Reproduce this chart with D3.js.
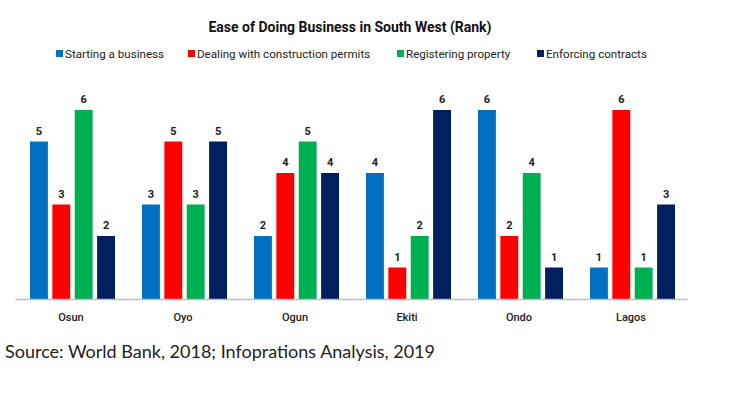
<!DOCTYPE html>
<html lang="en">
<head>
  <meta charset="UTF-8" />
  <title>Ease of Doing Business in South West</title>
  <style>
    html, body { margin: 0; background: #fff; }
    body { width: 743px; height: 395px; overflow: hidden; }
    svg text { font-family: Roboto, sans-serif; }
    .source { font-family: Lato, "Open Sans", sans-serif; }
  </style>
</head>
<body>
  <svg id="chart" width="743" height="395"></svg>

  <script src="https://cdn.jsdelivr.net/npm/d3@7/dist/d3.min.js"></script>
  <script>
    // data
    const states = ["Osun", "Oyo", "Ogun", "Ekiti", "Ondo", "Lagos"];
    const seriesNames = ["Starting a business", "Dealing with construction permits", "Registering property", "Enforcing contracts"];
    const startingBusiness = [5, 3, 2, 4, 6, 1];
    const constructionPermits = [3, 5, 4, 1, 2, 6];
    const registeringProperty = [6, 3, 5, 2, 4, 1];
    const enforcingContracts = [2, 5, 4, 6, 1, 3];
    const colors = ["#0070C0", "#FF0000", "#00B050", "#002060"];

    const seriesValues = [startingBusiness, constructionPermits, registeringProperty, enforcingContracts];
    const rows = states.map((s, i) => ({
      state: s,
      values: seriesNames.map((n, j) => ({ key: n, value: seriesValues[j][i] }))
    }));

    const svg = d3.select("#chart");
    const margin = { left: 15, right: 56 };
    const width = 743 - margin.left - margin.right;
    const baseY = 299;

    const x0 = d3.scaleBand().domain(states).range([margin.left, margin.left + width]);
    const x1 = d3.scaleBand().domain(seriesNames).range([15, x0.bandwidth() - 12]).paddingInner(0.2);
    const y = d3.scaleLinear().domain([0, 6]).range([baseY, 110]);
    const color = d3.scaleOrdinal().domain(seriesNames).range(colors);

    // title
    svg.append("text")
      .attr("x", 350).attr("y", 32)
      .attr("text-anchor", "middle")
      .style("font-size", "14px").style("font-weight", "bold").attr("fill", "#111")
      .text("Ease of Doing Business in South West (Rank)");

    // legend
    const legendX = [56, 188, 397, 537];
    const legend = svg.append("g");
    seriesNames.forEach((n, i) => {
      legend.append("rect")
        .attr("x", legendX[i]).attr("y", 50)
        .attr("width", 7).attr("height", 7)
        .attr("fill", colors[i]);
      legend.append("text")
        .attr("x", legendX[i] + 9).attr("y", 57.5)
        .style("font-size", "11.6px").attr("fill", "#222")
        .text(n);
    });

    // bars
    const groups = svg.append("g").selectAll("g")
      .data(rows).enter().append("g")
      .attr("transform", d => `translate(${x0(d.state)},0)`);

    groups.selectAll("rect")
      .data(d => d.values).enter().append("rect")
      .attr("x", d => x1(d.key))
      .attr("y", d => y(d.value))
      .attr("width", x1.bandwidth())
      .attr("height", d => y(0) - y(d.value))
      .attr("fill", d => color(d.key));

    groups.selectAll("text.val")
      .data(d => d.values).enter().append("text")
      .attr("class", "val")
      .attr("x", d => x1(d.key) + x1.bandwidth() / 2)
      .attr("y", d => y(d.value) - 7)
      .attr("text-anchor", "middle")
      .style("font-size", "11px").style("font-weight", "bold").attr("fill", "#222")
      .text(d => d.value);

    // x axis
    const xAxis = svg.append("g")
      .attr("transform", `translate(0,${baseY})`)
      .call(d3.axisBottom(x0).tickSize(0).tickPadding(14));
    xAxis.select(".domain").attr("stroke", "#bfbfbf").attr("stroke-width", 1.5);
    xAxis.selectAll("text")
      .style("font-family", "Roboto, sans-serif")
      .style("font-size", "11px").style("font-weight", "500").attr("fill", "#222");

    // source note
    svg.append("text")
      .attr("class", "source")
      .attr("x", 5).attr("y", 358)
      .style("font-size", "18px").attr("fill", "#222")
      .text("Source: World Bank, 2018; Infoprations Analysis, 2019");
  </script>
</body>
</html>
